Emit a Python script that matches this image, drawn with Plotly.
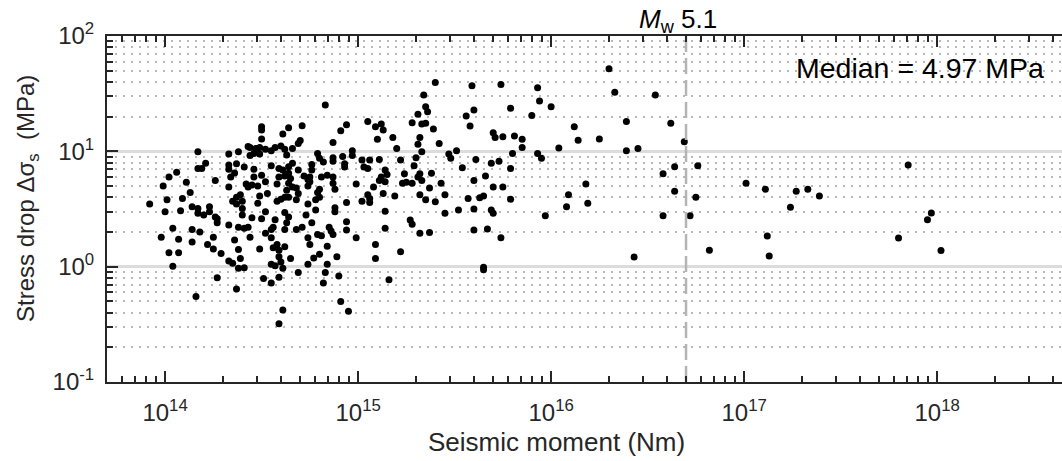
import numpy as np
import plotly.graph_objects as go

# log10 of seismic moment (N m) for each event
log_moment = [
    14.17, 14.38, 14.43, 14.33, 14.44, 14.21, 14.17, 14.19, 14.33, 14.37,
    14.41, 14.33, 14.34, 14.36, 14.06, 14.02, 14.26, 14.11, 13.99, 14.42,
    14.43, 14.33, 14.13, 14.09, 14.01, 14.39, 14.37, 14.35, 14.40, 13.92,
    14.14, 14.17, 14.23, 14.00, 14.08, 14.17, 14.20, 14.23, 14.26, 14.27,
    14.27, 14.33, 14.37, 14.40, 14.40, 14.38, 14.41, 14.43, 14.45, 14.44,
    14.04, 13.98, 14.07, 14.14, 14.14, 14.18, 14.25, 14.22, 14.25, 14.29,
    14.36, 14.38, 14.39, 14.33, 14.35, 14.38, 14.41, 14.02, 14.07, 14.04,
    14.27, 14.37, 14.16,
    14.83, 14.50, 14.50, 14.50, 14.64, 14.61, 14.71, 14.94, 14.91, 14.87,
    14.70, 14.69, 14.66, 15.05, 15.09, 15.12, 15.13, 15.10, 15.18, 15.20,
    14.44, 14.47, 14.49, 14.46, 14.49, 14.52, 14.55, 14.57, 14.60, 14.62,
    14.63, 14.79, 14.80, 14.82, 14.87, 14.87, 14.92, 14.97, 14.97, 14.93,
    14.93, 15.02, 15.06, 15.03, 15.05, 15.11, 15.14, 15.22, 14.46, 14.55,
    14.59, 14.61, 14.64, 14.66, 14.69, 14.76, 14.76, 14.72, 14.75, 14.75,
    14.81, 14.84, 14.87, 14.87, 14.88, 14.80, 14.79, 14.46, 14.50, 14.52,
    14.45, 14.48, 14.53, 14.59, 14.62, 14.64, 14.65, 14.64, 14.66, 14.68,
    14.69, 14.58, 14.63, 14.74, 14.74, 14.78, 14.80, 14.60, 14.62, 14.58,
    14.48, 14.49, 14.99, 15.08, 15.11, 15.12, 15.14, 15.15, 15.05, 15.06,
    15.02, 15.13, 15.19, 14.94,
    14.64, 14.68, 14.74, 15.06, 14.50, 14.52, 14.57, 14.56, 14.55, 14.52,
    14.62, 14.64, 14.63, 14.62, 14.68, 14.71, 14.73, 14.76, 14.78, 14.88,
    14.88, 14.74, 14.75, 14.79, 14.81, 14.85, 14.86, 14.87, 14.94, 14.94,
    14.99, 14.84, 15.14, 15.14, 14.49, 14.55, 14.56, 14.58, 14.59, 14.62,
    14.59, 14.60, 14.65, 14.55, 14.57, 14.61, 14.77, 14.80, 14.89, 14.84,
    14.74, 14.69, 14.83, 15.09, 15.09, 15.22, 14.51, 14.55, 14.59, 14.82,
    14.90, 15.16, 14.91, 14.95, 14.61, 14.59,
    15.40, 15.59, 15.74, 15.93, 15.34, 15.94, 16.00, 15.35, 15.36, 15.31,
    15.60, 15.56, 15.58, 15.79, 15.90, 15.28, 15.33, 15.35, 15.39, 15.32,
    15.31, 15.42, 15.70, 15.71, 15.75, 15.81, 15.85, 15.85, 15.51, 15.47,
    15.48, 15.80, 15.93, 15.95, 16.04, 15.33, 15.30, 15.61, 15.54, 15.69,
    15.73, 15.79, 15.29, 15.24, 15.32, 15.31, 15.33, 15.38, 15.43, 15.37,
    15.23, 15.25, 15.28, 15.66, 15.60, 15.70, 15.75, 15.32, 15.35, 15.40,
    15.45, 15.57, 15.63, 15.65, 15.79,
    15.45, 15.52, 15.60, 15.69, 15.70, 15.97, 15.27, 15.28, 15.32, 15.37,
    15.60, 15.67, 15.74, 15.65, 15.65,
    16.30, 16.33, 16.54, 16.39, 16.62, 16.12, 16.14, 16.25, 16.39, 16.45,
    16.69, 16.58, 16.64, 16.76, 16.18, 16.09, 16.64, 16.75, 16.08, 16.19,
    16.58, 16.72, 17.01, 17.11, 17.27, 17.33, 17.24, 17.12, 17.13, 16.82,
    16.43,
    17.39, 17.85, 17.97, 17.95, 17.80, 18.02,
]

# static stress drop (MPa) for each event
stress_drop = [
    9.9, 9.9, 11.0, 9.5, 9.2, 7.9, 7.1, 7.1, 7.6, 7.8,
    7.3, 7.0, 6.0, 6.5, 6.6, 6.0, 5.6, 5.4, 5.0, 5.2,
    4.9, 4.9, 4.4, 3.9, 3.8, 4.2, 4.0, 3.7, 3.7, 3.5,
    3.3, 3.2, 3.3, 3.0, 3.05, 2.9, 2.8, 3.0, 2.7, 2.6,
    2.4, 2.3, 3.5, 3.2, 2.8, 2.2, 2.15, 2.2, 2.65, 1.8,
    2.15, 1.8, 1.73, 2.1, 1.64, 2.0, 1.8, 1.56, 1.42, 1.3,
    1.7, 1.41, 1.18, 1.12, 1.07, 0.97, 0.98, 1.32, 1.32, 1.01,
    0.80, 0.64, 0.55,
    25.2, 16.3, 15.3, 12.8, 16.0, 14.1, 16.7, 17.0, 15.1, 11.9,
    12.4, 11.7, 10.6, 18.1, 16.3, 17.3, 15.3, 12.7, 13.2, 10.6,
    10.8, 10.6, 10.8, 9.6, 9.5, 10.4, 10.1, 10.8, 11.1, 10.4,
    9.3, 9.6, 8.7, 8.1, 8.8, 8.2, 9.0, 10.1, 9.2, 7.8,
    7.3, 8.4, 8.4, 7.3, 7.1, 8.5, 6.9, 8.4, 7.0, 7.5,
    7.1, 6.9, 7.35, 7.9, 6.9, 7.7, 6.9, 6.1, 6.0, 5.45,
    6.0, 6.2, 6.0, 5.3, 4.7, 4.7, 4.4, 6.0, 6.2, 5.45,
    5.1, 5.0, 4.3, 6.0, 6.1, 6.45, 5.8, 5.3, 4.9, 4.8,
    4.3, 5.2, 4.6, 5.0, 5.7, 3.8, 4.0, 3.85, 4.0, 3.7,
    3.55, 4.1, 5.2, 4.9, 5.6, 6.0, 5.45, 6.3, 4.2, 3.9,
    3.7, 4.3, 4.1, 3.6,
    4.0, 3.8, 3.5, 3.6, 2.6, 3.0, 2.55, 2.2, 2.1, 1.95,
    2.95, 2.7, 2.4, 2.1, 2.1, 2.2, 2.8, 2.4, 3.1, 3.25,
    3.0, 1.78, 1.56, 1.9, 1.85, 2.2, 2.04, 1.9, 2.45, 2.08,
    1.78, 1.5, 3.03, 2.15, 1.42, 1.78, 1.46, 1.56, 1.39, 1.49,
    1.22, 1.10, 1.18, 1.05, 1.02, 0.97, 1.19, 1.28, 1.22, 1.05,
    1.05, 0.89, 0.89, 1.56, 1.18, 1.35, 0.79, 0.72, 0.81, 0.72,
    0.83, 0.77, 0.50, 0.41, 0.42, 0.32,
    39.6, 37.0, 38.0, 35.6, 30.8, 27.3, 24.4, 24.4, 22.0, 21.0,
    22.8, 20.2, 16.6, 23.6, 20.4, 17.7, 17.3, 17.5, 15.6, 13.2,
    11.5, 11.7, 14.5, 13.2, 13.4, 13.6, 12.7, 10.8, 10.1, 9.5,
    8.7, 9.6, 9.6, 8.7, 10.7, 9.9, 8.8, 8.5, 7.2, 7.9,
    8.2, 7.1, 7.5, 6.4, 6.4, 6.0, 5.6, 6.45, 5.3, 4.8,
    5.3, 5.4, 5.3, 6.1, 5.6, 4.9, 4.9, 4.2, 3.8, 3.65,
    4.2, 3.9, 3.96, 4.1, 3.85,
    2.9, 3.1, 3.16, 3.1, 2.9, 2.76, 2.54, 2.33, 1.95, 1.98,
    2.08, 2.12, 1.78, 0.99, 0.94,
    52.0, 32.5, 30.8, 18.1, 17.5, 16.3, 12.5, 12.8, 10.1, 10.6,
    12.1, 6.4, 7.35, 7.5, 5.2, 4.2, 4.5, 4.0, 3.3, 3.55,
    2.76, 2.76, 5.3, 4.7, 4.5, 4.7, 3.27, 1.84, 1.24, 1.39,
    1.21,
    4.1, 7.6, 2.92, 2.55, 1.77, 1.38,
]

assert len(log_moment) == len(stress_drop)

median_stress = 4.97      # MPa
mw_reference = 5.1        # magnitude marked by the dashed line
mw_moment = 5.0e16        # N m

moment = 10 ** np.array(log_moment)

# axis extents
x_lo = np.log10(5e13)
x_hi = 18.647
y_lo, y_hi = -1, 2

ink = "#262626"
font_family = "Liberation Sans, Arial, sans-serif"

x_major = [10.0 ** e for e in range(14, 19)]
x_major_text = [f"10<sup>{e}</sup>" for e in range(14, 19)]
x_minor = [k * 10.0 ** e for e in range(13, 19) for k in range(2, 10)
           if x_lo < np.log10(k * 10.0 ** e) < x_hi]

y_major = [10.0 ** e for e in range(-1, 3)]
y_major_text = [f"10<sup>{e}</sup>" for e in range(-1, 3)]
y_minor = [k * 10.0 ** e for e in range(-1, 2) for k in range(2, 10)]

fig = go.Figure()

fig.add_trace(go.Scatter(
    x=moment, y=stress_drop, mode="markers",
    marker=dict(color="black", size=7, line=dict(width=0)),
    hoverinfo="skip", showlegend=False,
))

# reference magnitude line
fig.add_trace(go.Scatter(
    x=[mw_moment, mw_moment], y=[10.0 ** y_lo, 10.0 ** y_hi], mode="lines",
    line=dict(color="#b4b4b4", width=2.5, dash="16px,6px"),
    hoverinfo="skip", showlegend=False,
))

fig.update_layout(
    width=1062, height=461,
    margin=dict(l=107, r=0, t=36, b=79, pad=0),
    paper_bgcolor="white", plot_bgcolor="white",
    font=dict(family=font_family, size=24, color=ink),
    showlegend=False,
)

fig.update_xaxes(
    type="log", range=[x_lo, x_hi],
    showline=True, linecolor=ink, linewidth=2, mirror="ticks",
    ticks="inside", ticklen=11, tickwidth=2, tickcolor=ink,
    tickmode="array", tickvals=x_major, ticktext=x_major_text,
    tickfont=dict(size=24, color=ink), ticklabelstandoff=8,
    showgrid=False, zeroline=False,
    minor=dict(tickmode="array", tickvals=x_minor, ticks="inside",
               ticklen=6, tickwidth=1.5, tickcolor=ink, showgrid=False),
)

fig.update_yaxes(
    type="log", range=[y_lo, y_hi],
    showline=True, linecolor=ink, linewidth=2, mirror=False,
    ticks="inside", ticklen=11, tickwidth=2, tickcolor=ink,
    tickmode="array", tickvals=y_major, ticktext=y_major_text,
    tickfont=dict(size=24, color=ink), ticklabelstandoff=6,
    showgrid=True, gridcolor="#dcdcdc", gridwidth=2.5, zeroline=False,
    minor=dict(tickmode="array", tickvals=y_minor, ticks="inside",
               ticklen=6, tickwidth=1.5, tickcolor=ink,
               showgrid=True, gridcolor="#b8b8b8", gridwidth=1.5,
               griddash="2px,6px"),
)

mw_x = (np.log10(mw_moment) - x_lo) / (x_hi - x_lo)

fig.add_annotation(
    text="Seismic moment (Nm)", xref="paper", yref="paper",
    x=0.471, y=-0.173, xanchor="center", yanchor="middle",
    showarrow=False, font=dict(size=26, color=ink),
)
fig.add_annotation(
    text="Stress drop Δσ<sub>s</sub>  (MPa)", xref="paper", yref="paper",
    x=-0.0827, y=0.529, xanchor="center", yanchor="middle", textangle=-90,
    showarrow=False, font=dict(size=24, color=ink),
)
fig.add_annotation(
    text=f"Median = {median_stress:.2f} MPa", xref="paper", yref="paper",
    x=0.983, y=0.9075, xanchor="right", yanchor="middle",
    showarrow=False, font=dict(size=28.5, color="black"),
)
fig.add_annotation(
    text=f"<i>M</i><sub>w</sub> {mw_reference}", xref="paper", yref="paper",
    x=mw_x - 0.008, y=1.045, xanchor="center", yanchor="middle",
    showarrow=False, font=dict(size=26, color="black"),
)

fig.write_html("out.html")
